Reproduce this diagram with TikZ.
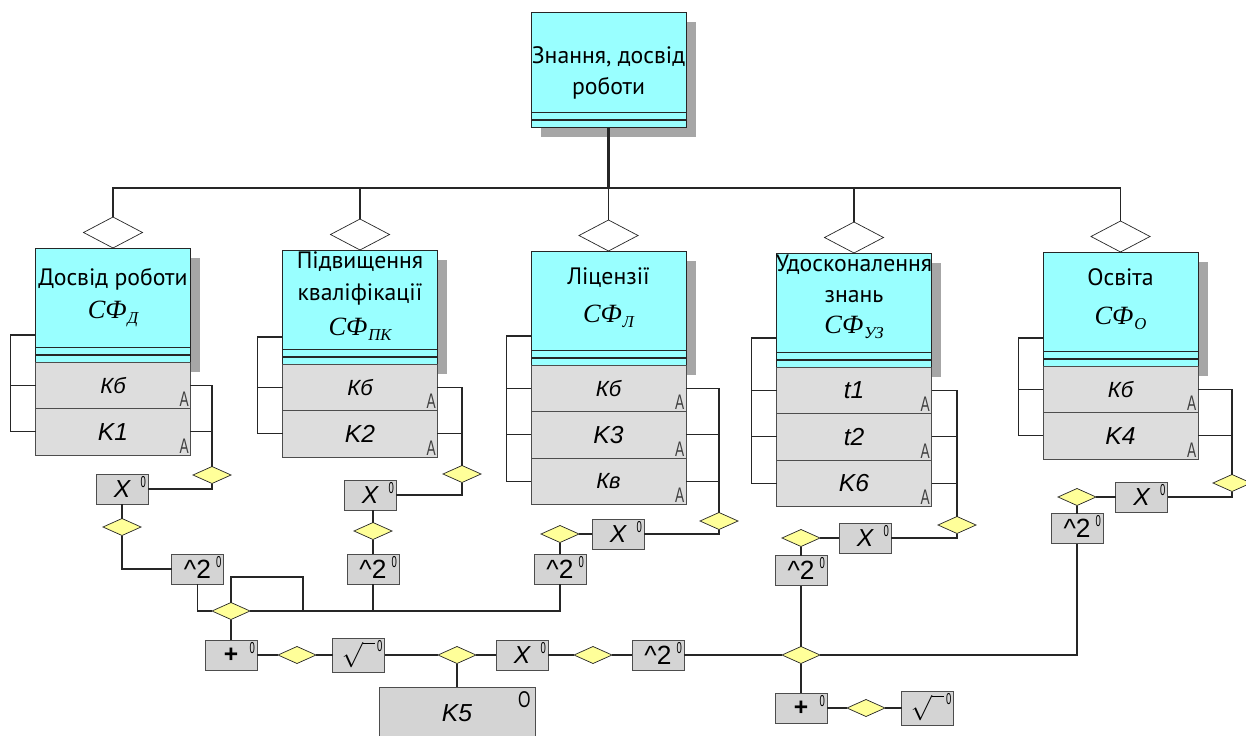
\documentclass[tikz,border=0pt]{standalone}
\usepackage{graphicx}
\usepackage{fontspec}
\setmainfont{PT Sans}
\newfontfamily\arialfam{Liberation Sans}
\newfontfamily\serfam{Liberation Serif}
\usetikzlibrary{shapes.geometric, positioning, shadows}

\definecolor{clscyan}{HTML}{99FFFF}
\definecolor{rowgray}{HTML}{DDDDDD}
\definecolor{opgray}{HTML}{D4D4D4}
\definecolor{diayellow}{HTML}{FFFF99}
\definecolor{shadowgray}{HTML}{A6A6A6}
\definecolor{edgegray}{HTML}{4D4D4D}

\newcommand{\cfsym}[1]{{\serfam\itshape\fontsize{15}{16}\selectfont СФ}\kern0.5pt\raisebox{-3.3pt}{\serfam\itshape\fontsize{9.5}{10}\selectfont #1}}
\newcommand{\sqtxt}{{\fontsize{15}{15}\selectfont\textasciicircum2}}
\newcommand{\radtxt}{{\fontsize{15}{15}\selectfont$\sqrt{\vphantom{X}\hspace{7pt}}$}}

\begin{document}
\begin{tikzpicture}[
    x=0.02cm, y=-0.02cm,
    every node/.style={outer sep=0pt},
    cls/.style={rectangle, draw=black!85, fill=clscyan, minimum width=31mm, minimum height=22.8mm, inner sep=0pt, anchor=north,
        drop shadow={shadow xshift=2mm, shadow yshift=-2mm, fill=shadowgray, opacity=1}},
    amark/.style={anchor=south east, inner sep=1pt, font=\arialfam\fontsize{12}{12}\selectfont, text=black!75},
    zmark/.style={anchor=north east, inner sep=1.2pt, font=\arialfam\fontsize{9}{9}\selectfont},
    row/.style={rectangle, draw=edgegray, fill=rowgray, minimum width=31mm, minimum height=9.3mm, inner sep=0pt,
        font=\arialfam\itshape\fontsize{14}{14}\selectfont, label={[amark]south east:\scalebox{0.65}[1]{A}}},
    rowsm/.style={row, font=\arialfam\itshape\fontsize{12.5}{12.5}\selectfont},
    opbox/.style={rectangle, draw=edgegray, fill=opgray, minimum width=10.4mm, minimum height=6mm, inner sep=0pt,
        font=\arialfam\fontsize{14}{14}\selectfont},
    op/.style={opbox, label={[zmark]north east:\scalebox{0.6}[1]{0}}},
    wdia/.style={diamond, draw=black!85, fill=white, minimum width=11.8mm, minimum height=6.2mm, inner sep=0pt, anchor=south},
    ydia/.style={diamond, draw=black!85, fill=diayellow, minimum width=7.6mm, minimum height=3.4mm, inner sep=0pt},
    ttl/.style={anchor=base, inner sep=0pt, font=\fontsize{13.5}{16}\selectfont},
    cfl/.style={anchor=base, inner sep=0pt},
    line/.style={draw=black!85, line width=0.6pt},
]
\useasboundingbox (0,0) rectangle (1246,736);

%% NODES
    % knowledge and work experience
    \node[cls, minimum height=23mm] (knowl) at (608.5,12) {};
    \node[ttl] (knowl_t1) at (608.5,64) {Знання, досвід};
    \node[ttl] (knowl_t2) at (608.5,95) {роботи};
    \coordinate (bus) at (608.5,188);

    % work experience
    \node[cls] (c1) at (113,248) {};
    \node[ttl] (c1t1) at (113,285) {Досвід роботи};
    \node[cfl] (c1cf) at (113,318) {\cfsym{Д}};
    \node[rowsm, below=0pt of c1] (c1r1) {Кб};
    \node[row, below=0pt of c1r1] (c1r2) {K1};
    \node[wdia] (c1d) at (c1.north) {};

    % advanced training
    \node[cls] (c2) at (360,250) {};
    \node[ttl] (c2t1) at (360,269) {Підвищення};
    \node[ttl] (c2t2) at (360,300) {кваліфікації};
    \node[cfl] (c2cf) at (360,335) {\cfsym{ПК}};
    \node[rowsm, below=0pt of c2] (c2r1) {Кб};
    \node[row, below=0pt of c2r1] (c2r2) {K2};
    \node[wdia] (c2d) at (c2.north) {};

    % licences
    \node[cls] (c3) at (608.5,251) {};
    \node[ttl] (c3t1) at (608.5,284) {Ліцензії};
    \node[cfl] (c3cf) at (608.5,322) {\cfsym{Л}};
    \node[rowsm, below=0pt of c3] (c3r1) {Кб};
    \node[row, below=0pt of c3r1] (c3r2) {K3};
    \node[rowsm, below=0pt of c3r2] (c3r3) {Кв};
    \node[wdia] (c3d) at (c3.north) {};

    % improving knowledge
    \node[cls] (c4) at (854,253) {};
    \node[ttl] (c4t1) at (854,272) {Удосконалення};
    \node[ttl] (c4t2) at (854,302) {знань};
    \node[cfl] (c4cf) at (854,333) {\cfsym{УЗ}};
    \node[row, below=0pt of c4] (c4r1) {t1};
    \node[row, below=0pt of c4r1] (c4r2) {t2};
    \node[row, below=0pt of c4r2] (c4r3) {K6};
    \node[wdia] (c4d) at (c4.north) {};

    % education
    \node[cls] (c5) at (1120.5,252) {};
    \node[ttl] (c5t1) at (1120.5,285) {Освіта};
    \node[cfl] (c5cf) at (1120.5,324) {\cfsym{О}};
    \node[rowsm, below=0pt of c5] (c5r1) {Кб};
    \node[row, below=0pt of c5r1] (c5r2) {K4};
    \node[wdia] (c5d) at (c5.north) {};

    % double lines of the class boxes
    \foreach \n in {knowl,c1,c2,c3,c4,c5} {
        \draw[line] ([yshift=2.9mm]\n.south west) -- ([yshift=2.9mm]\n.south east);
        \draw[line] ([yshift=1.4mm]\n.south west) -- ([yshift=1.4mm]\n.south east);
    }

    % operations per column
    \node[ydia] (c1y) at (212,475) {};
    \node[op] (c1x) at (122,489) {\itshape X};
    \node[ydia] (c1q) at (122,527) {};
    \node[op] (c1s) at (197.5,569) {\sqtxt};

    \node[ydia] (c2y) at (462,474) {};
    \node[op] (c2x) at (370,495) {\itshape X};
    \node[ydia] (c2q) at (373,531) {};
    \node[op] (c2s) at (373,569) {\sqtxt};

    \node[ydia] (c3y) at (719,521) {};
    \node[op] (c3x) at (618,534) {\itshape X};
    \node[ydia] (c3q) at (560,534) {};
    \node[op] (c3s) at (560,569) {\sqtxt};

    \node[ydia] (c4y) at (957,525) {};
    \node[op] (c4x) at (865,538) {\itshape X};
    \node[ydia] (c4q) at (801,538) {};
    \node[op] (c4s) at (801,570.5) {\sqtxt};

    \node[ydia] (c5y) at (1232,483) {};
    \node[op] (c5x) at (1141.5,497) {\itshape X};
    \node[ydia] (c5q) at (1077,497) {};
    \node[op] (c5s) at (1077,528.5) {\sqtxt};

    % bottom chain
    \node[ydia] (m1) at (231,611) {};
    \node[op] (plus1) at (231,655) {\textbf{+}};
    \node[ydia] (y3) at (297,655) {};
    \node[op, minimum height=6.8mm] (sqrt1) at (358.5,655) {\radtxt};
    \node[ydia] (y4) at (457,655) {};
    \node[op] (x6) at (522,655) {\itshape X};
    \node[ydia] (y5) at (593,655) {};
    \node[op] (sq6) at (658,655) {\sqtxt};
    \node[ydia] (m2) at (801,655) {};
    \node[op] (plus2) at (801,708) {\textbf{+}};
    \node[ydia] (y6) at (866,708) {};
    \node[op, minimum height=6.8mm] (sqrt2) at (927.5,708) {\radtxt};
    \node[opbox, minimum width=31.2mm, minimum height=10.4mm, anchor=north, font=\arialfam\itshape\fontsize{14}{14}\selectfont,
        label={[zmark, inner sep=2.5pt, font=\arialfam\fontsize{13}{13}\selectfont]north east:\scalebox{0.7}[1]{O}}] (k5) at (457,687) {K5};

%% CONNECTIONS
    % knowledge box -> columns
    \draw[line, line width=1.2pt] (knowl.south) -- (bus);
    \draw[line] (c1d.north) |- (bus) -| (c5d.north);
    \draw[line] (c2d.north) -- (c2d.north |- bus);
    \draw[line] (c3d.north) -- (bus);
    \draw[line] (c4d.north) -- (c4d.north |- bus);

    % class boxes -> attributes
    \draw[line] ([yshift=5.4mm]c1.south west) -- ++(-5mm,0) |- (c1r2.west);
    \draw[line] (c1r1.west) -- ++(-5mm,0);
    \draw[line] ([yshift=5.4mm]c2.south west) -- ++(-5mm,0) |- (c2r2.west);
    \draw[line] (c2r1.west) -- ++(-5mm,0);
    \draw[line] ([yshift=5.8mm]c3.south west) -- ++(-5mm,0) |- (c3r3.west);
    \draw[line] (c3r1.west) -- ++(-5mm,0);
    \draw[line] (c3r2.west) -- ++(-5mm,0);
    \draw[line] ([yshift=5.8mm]c4.south west) -- ++(-5mm,0) |- (c4r3.west);
    \draw[line] (c4r1.west) -- ++(-5mm,0);
    \draw[line] (c4r2.west) -- ++(-5mm,0);
    \draw[line] ([yshift=5.6mm]c5.south west) -- ++(-5mm,0) |- (c5r2.west);
    \draw[line] (c5r1.west) -- ++(-5mm,0);

    % attributes -> operations
    \draw[line] (c1r1.east) -| (c1y.north);
    \draw[line] (c1r2.east) -- (c1r2.east -| c1y.north);
    \draw[line] (c2r1.east) -| (c2y.north);
    \draw[line] (c2r2.east) -- (c2r2.east -| c2y.north);
    \draw[line] (c3r1.east) -| (c3y.north);
    \draw[line] (c3r2.east) -- (c3r2.east -| c3y.north);
    \draw[line] (c3r3.east) -- (c3r3.east -| c3y.north);
    \draw[line] (c4r1.east) -| (c4y.north);
    \draw[line] (c4r2.east) -- (c4r2.east -| c4y.north);
    \draw[line] (c4r3.east) -- (c4r3.east -| c4y.north);
    \draw[line] (c5r1.east) -| (c5y.north);
    \draw[line] (c5r2.east) -- (c5r2.east -| c5y.north);

    % operations per column
    \draw[line] (c1y.south) |- (c1x.east);
    \draw[line] (c1x.south) -- (c1q.north);
    \draw[line] (c1q.south) |- (c1s.west);
    \draw[line] (c1s.south) |- (m1.west);

    \draw[line] (c2y.south) |- (c2x.east);
    \draw[line] (c2q.north) -- (c2q.north |- c2x.south);
    \draw[line] (c2q.south) -- (c2s.north);
    \draw[line] (c2s.south) -- (c2s.south |- m1.east);

    \draw[line] (c3y.south) |- (c3x.east);
    \draw[line] (c3x.west) -- (c3q.east);
    \draw[line] (c3q.south) -- (c3s.north);
    \draw[line] (m1.east) -| (c3s.south);

    \draw[line] (c4y.south) |- (c4x.east);
    \draw[line] (c4x.west) -- (c4q.east);
    \draw[line] (c4q.south) -- (c4s.north);
    \draw[line] (c4s.south) -- (m2.north);

    \draw[line] (c5y.south) |- (c5x.east);
    \draw[line] (c5x.west) -- (c5q.east);
    \draw[line] (c5q.south) -- (c5s.north);
    \draw[line] (m2.east) -| (c5s.south);

    % loop above the first junction
    \coordinate (m1loop) at (303,577);
    \draw[line] (m1.north) |- (m1loop) -- (m1loop |- m1.east);

    % bottom chain
    \draw[line] (m1.south) -- (plus1.north);
    \draw[line] (plus1.east) -- (y3.west);
    \draw[line] (y3.east) -- (sqrt1.west);
    \draw[line] (sqrt1.east) -- (y4.west);
    \draw[line] (y4.south) -- (k5.north);
    \draw[line] (y4.east) -- (x6.west);
    \draw[line] (x6.east) -- (y5.west);
    \draw[line] (y5.east) -- (sq6.west);
    \draw[line] (sq6.east) -- (m2.west);
    \draw[line] (m2.south) -- (plus2.north);
    \draw[line] (plus2.east) -- (y6.west);
    \draw[line] (y6.east) -- (sqrt2.west);

\end{tikzpicture}
\end{document}
